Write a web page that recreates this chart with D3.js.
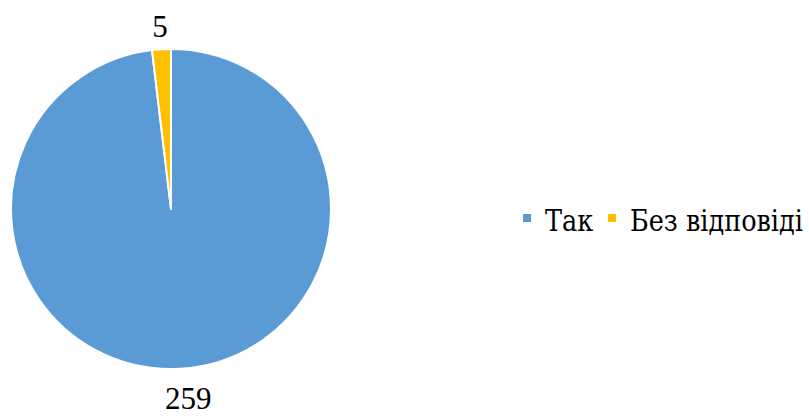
<!DOCTYPE html>
<html>
<head>
<meta charset="utf-8">
<script src="https://cdn.jsdelivr.net/npm/d3@7"></script>
<style>
  body { margin: 0; background: #fff; }
</style>
</head>
<body>
<svg id="chart" width="809" height="416"></svg>
<script>
// data
var categories = ["Так", "Без відповіді"];
var values = [259, 5];
var colors = ["#5B9BD5", "#FFC000"];

let width = 809;
let height = 416;
let cx = 171, cy = 209, radius = 160;
let serif = "'Liberation Serif', serif";
// Liberation Serif has no Cyrillic here, DejaVu Serif does
let cyrSerif = "'DejaVu Serif', serif";

var svg = d3.select("#chart");
var data = categories.map((c, i) => ({name: c, value: values[i]}));

let pie = d3.pie().sort(null).value(d => d.value);
let arc = d3.arc().innerRadius(0).outerRadius(radius);
// label distance outside the rim and sideways nudge, per slice
var labelPad = [30, 23];
var labelDx = [6, 0];

var chartG = svg.append("g").attr("transform", `translate(${cx},${cy})`);

chartG.selectAll("path")
    .data(pie(data))
    .join("path")
    .attr("d", arc)
    .attr("fill", (d, i) => colors[i])
    .attr("stroke", "white")
    .attr("stroke-width", 2)
    .attr("stroke-linejoin", "round");

// value labels outside the slices
chartG.selectAll(".vlabel")
    .data(pie(data))
    .join("text")
    .attr("class", "vlabel")
    .attr("transform", (d, i) => {
        let r = radius + labelPad[i];
        let c = d3.arc().innerRadius(r).outerRadius(r).centroid(d);
        return `translate(${c[0] + labelDx[i]},${c[1]})`;
    })
    .attr("text-anchor", "middle")
    .attr("dominant-baseline", "central")
    .style("font-family", serif)
    .style("font-size", "31px")
    .text(d => d.data.value);

// legend
var legend = svg.append("g");
let ly = 218;
var squareX = [523, 608];
categories.forEach((c, i) => {
    legend.append("rect")
        .attr("x", squareX[i]).attr("y", ly - 4)
        .attr("width", 8).attr("height", 8)
        .attr("fill", colors[i]);
    var t = legend.append("text")
        .attr("x", squareX[i] + 22).attr("y", ly + 13)
        .style("font-family", cyrSerif)
        .style("font-size", "29px")
        .text(c);
    // DejaVu Serif runs wider than Times, squeeze it
    let w = t.node().getComputedTextLength();
    t.attr("textLength", w * 0.88).attr("lengthAdjust", "spacingAndGlyphs");
});
</script>
</body>
</html>
